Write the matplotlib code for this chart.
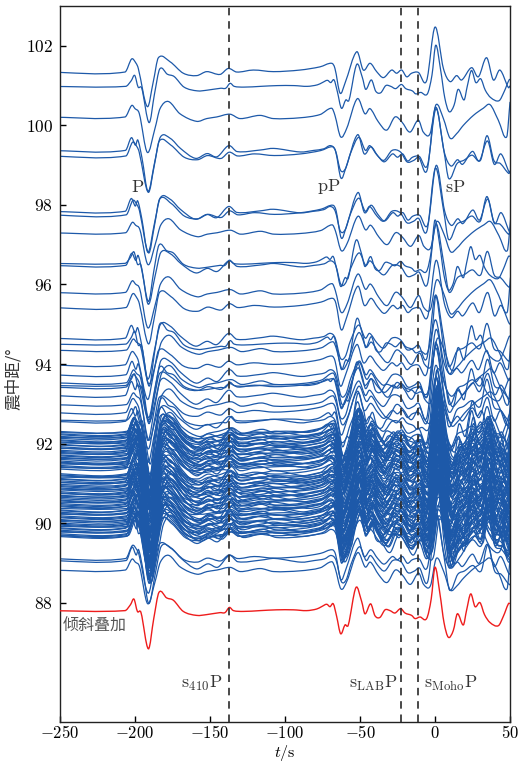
import numpy as np
import matplotlib
matplotlib.use("Agg")
import matplotlib.pyplot as plt
from matplotlib.path import Path
from matplotlib.patches import PathPatch
from matplotlib.ticker import FixedLocator, FixedFormatter

plt.rcParams['mathtext.fontset'] = 'cm'
plt.rcParams['font.family'] = ['DejaVu Serif']

# ---------------- data ----------------
# stacked (red) waveform: time (s), amplitude (deg)
stack_t = [-260, -206.7, -203, -200.7, -198.4, -196, -191.1, -187.5, -184, -178.9,
           -174.4, -167.8, -158.9, -152.2, -143.3, -140, -137.1, -134.4, -127.8, -116.7,
           -105.6, -94.4, -85.6, -78.9, -75.6, -72.2, -70, -67.8, -65.6, -62.9,
           -60, -57.8, -52.7, -48.9, -46.7, -42.9, -40, -36.7, -33.3, -30,
           -26.7, -22.9, -20, -15.6, -13.3, -10, -5.6, -2.5, 0, 3.3,
           6, 8.9, 12.2, 14.9, 18.9, 21, 23.8, 26.7, 30, 33,
           36.7, 42.2, 45.6, 48.9, 50]
stack_a = [0, 0, 0.15, 0.29, -0.02, -0.05, -0.96, -0.2, 0.46, 0.32,
           0.26, -0.02, -0.12, -0.1, -0.05, -0.05, 0.08, 0, -0.02, 0,
           0.02, 0.02, 0, 0.04, 0.1, 0.16, 0.1, 0.17, -0.14, -0.58,
           -0.36, -0.36, 0.58, 0.23, -0.08, 0.17, -0.13, -0.17, 0.02, 0,
           -0.06, 0.05, -0.06, -0.12, -0.2, -0.16, -0.2, 0.3, 1.09, 0.42,
           -0.3, -0.67, -0.5, -0.08, -0.36, 0.0, 0.42, 0.1, 0.2, -0.1,
           -0.3, -0.38, -0.14, 0.17, 0.18]
stack_dist = 87.8

# individual record shapes
wB_t = [-260, -206.7, -202.2, -199.3, -197.8, -191.8, -187.8, -184.4, -176.7, -167.8,
        -158.9, -152.2, -143.3, -137.8, -132.2, -121.1, -107.8, -90, -76.7, -68.9,
        -66.7, -63.3, -60, -52.2, -47.8, -43.3, -38.9, -34.4, -28.9, -25.6,
        -22.2, -18.9, -15.6, -11.1, -5.6, 0, 5.6, 10, 14.4, 17.8,
        24.4, 28.9, 34.4, 38.9, 43.3, 48.9, 50]
wB_a = [0, 0, 0.33, 0.22, 0.09, -0.87, -0.24, 0.36, 0.26, -0.03,
        -0.09, 0.01, -0.06, 0.09, 0, 0.05, 0.01, 0.05, 0.13, 0.22,
        0.09, -0.53, -0.28, 0.51, 0.05, 0.22, 0.01, -0.14, 0.05, -0.03,
        0.05, -0.12, -0.03, -0.01, -0.22, 1.13, 0.09, -0.24, -0.09, -0.2,
        0.11, -0.12, 0.36, -0.2, 0.05, -0.39, -0.35]

wC_t = [-260, -206.7, -202.2, -200, -197.1, -191.8, -186.7, -183.3, -177.8, -170,
        -158.9, -152.2, -145.6, -136.7, -130, -116.7, -107.8, -90, -76.7, -68.9,
        -66.7, -62.9, -58.9, -51.8, -46.7, -43.3, -37.8, -32.2, -26.7, -22.2,
        -16.7, -11.1, -7.8, -3.3, 0.7, 5.6, 10, 14.4, 18.9, 25.6,
        32.2, 36.7, 42.2, 47.8, 50]
wC_a = [0, 0, 0.29, 0.21, 0.08, -0.89, -0.29, 0.21, 0.39, 0.08,
        -0.11, -0.04, 0, 0.07, -0.04, 0.04, -0.04, -0.02, 0.06, 0.22,
        0.04, -0.5, -0.29, 0.46, 0.08, 0.21, -0.12, -0.33, 0, -0.12,
        -0.38, -0.08, -0.38, -0.42, 0.31, -0.04, -0.53, -0.42, -0.21, 0.04,
        0.22, 0.31, -0.08, -0.5, 0.37]

wD_t = [-260, -206.7, -202.7, -200, -198.4, -195.6, -191.6, -187.1, -183.3, -176.7,
        -170, -160, -152.2, -145.6, -137.8, -132.2, -116.7, -107.8, -90, -81.1,
        -74.4, -70, -66.7, -63.3, -60, -56.7, -51.1, -46.7, -43.8, -38.9,
        -34.4, -28.9, -23.3, -18.9, -14.4, -11.1, -5.6, 0, 5.6, 8.9,
        14.4, 18.9, 24.4, 30, 34.4, 38.9, 43.3, 48.9, 50]
wD_a = [0, 0, 0.32, 0.13, 0.26, -0.2, -1.03, -0.28, 0.34, 0.3,
        0.05, -0.2, -0.08, -0.16, 0.12, -0.03, 0.01, 0.05, -0.04, 0,
        0.04, 0.12, 0, -0.5, -0.46, -0.08, 0.33, 0, 0.12, -0.12,
        -0.25, 0, -0.04, -0.29, -0.25, -0.18, -0.5, 1.08, 0, -0.71,
        -0.33, -0.25, -0.12, -0.25, 0.37, -0.25, -0.33, -0.58, -0.5]

# epicentral distances (deg), shape index, gain and time shift (s) of each record
dists_upper = [101.34, 100.98, 100.21, 99.37, 99.23, 97.84, 97.75, 97.30, 96.53, 96.48,
               95.80, 95.42, 94.65, 94.50, 94.35, 93.98, 93.73, 93.53, 93.46, 93.42,
               93.21, 92.98, 92.78, 92.59, 92.56]
shape_upper = [1, 0, 2, 3, 1, 3, 1, 2, 0, 3,
               2, 1, 3, 0, 2, 1, 3, 2, 0, 1,
               3, 2, 1, 0, 3]
gain_upper = [1.00, 0.95, 1.00, 1.00, 1.05, 1.00, 1.10, 0.90, 1.00, 0.95,
              1.00, 1.05, 1.00, 1.10, 0.95, 1.00, 1.05, 1.10, 1.00, 0.95,
              1.10, 1.00, 1.05, 1.15, 1.00]
shift_upper = [0.0, 0.5, 0.0, 0.3, 0.6, 0.2, 0.8, 0.4, 0.0, 0.5,
               0.3, 0.7, 0.2, 0.5, 0.9, 0.1, 0.6, 1.0, 0.4, 0.8,
               0.2, 0.9, 0.5, 1.2, 0.3]

dists_dense = [92.31, 92.28, 92.25, 92.23, 92.19, 92.16, 92.14, 92.10, 92.08, 92.05,
               92.02, 91.99, 91.97, 91.93, 91.90, 91.88, 91.84, 91.81, 91.79, 91.75,
               91.72, 91.70, 91.66, 91.63, 91.61, 91.57, 91.54, 91.52, 91.49, 91.46,
               91.43, 91.40, 91.37, 91.25, 91.22, 91.20, 91.16, 91.13, 91.11, 91.07,
               91.04, 91.02, 90.98, 90.95, 90.93, 90.89, 90.86, 90.84, 90.80, 90.77,
               90.75, 90.71, 90.68, 90.66, 90.62, 90.59, 90.57, 90.53, 90.50, 90.47,
               90.44, 90.42, 90.37, 90.34, 90.32, 90.28, 90.25, 90.23, 90.19, 90.16,
               90.14, 90.10, 90.07, 90.05, 90.01, 89.98, 89.96, 89.92, 89.89, 89.87,
               89.83, 89.80, 89.78, 89.74, 89.71, 89.69, 89.67]
shape_dense = [2, 0, 3, 1, 2, 0, 3, 1, 3, 2,
               0, 3, 2, 1, 3, 0, 2, 1, 3, 0,
               1, 2, 3, 0, 2, 1, 3, 2, 0, 3,
               1, 0, 2, 3, 1, 2, 0, 3, 2, 1,
               3, 0, 1, 2, 3, 1, 0, 2, 3, 1,
               2, 3, 0, 1, 2, 3, 1, 0, 2, 3,
               1, 2, 0, 3, 1, 3, 2, 0, 1, 3,
               2, 1, 0, 3, 2, 1, 3, 0, 2, 1,
               3, 2, 0, 1, 3, 2, 1]
gain_dense = [1.20, 1.30, 1.15, 1.25, 1.35, 1.20, 1.10, 1.30, 1.25, 1.40,
              1.15, 1.30, 1.20, 1.35, 1.25, 1.10, 1.30, 1.20, 1.40, 1.25,
              1.15, 1.35, 1.20, 1.30, 1.25, 1.40, 1.15, 1.30, 1.20, 1.35,
              1.25, 1.10, 1.30, 1.40, 1.20, 1.30, 1.15, 1.35, 1.25, 1.20,
              1.40, 1.30, 1.10, 1.25, 1.35, 1.20, 1.30, 1.15, 1.40, 1.25,
              1.20, 1.35, 1.30, 1.15, 1.25, 1.40, 1.20, 1.30, 1.35, 1.15,
              1.25, 1.30, 1.20, 1.40, 1.15, 1.30, 1.25, 1.35, 1.20, 1.10,
              1.30, 1.40, 1.25, 1.15, 1.35, 1.20, 1.30, 1.25, 1.40, 1.15,
              1.30, 1.20, 1.35, 1.25, 1.10, 1.30, 1.20]
shift_dense = [1.5, 0.6, 2.0, 1.0, 0.3, 1.8, 0.7, 2.4, 1.1, 0.4,
               1.9, 0.8, 2.2, 1.4, 0.5, 2.5, 1.0, 1.7, 0.2, 2.1,
               1.3, 0.6, 2.3, 1.6, 0.9, 2.0, 0.4, 1.5, 2.6, 0.8,
               1.2, 2.2, 0.3, 1.8, 1.0, 0.6, 2.4, 1.4, 0.9, 2.0,
               0.2, 1.6, 2.5, 1.1, 0.5, 1.9, 0.8, 2.3, 1.3, 0.4,
               2.1, 1.0, 1.7, 0.7, 2.4, 1.2, 0.3, 2.0, 1.5, 0.5,
               1.8, 0.9, 2.2, 1.4, 0.6, 2.5, 1.1, 0.2, 1.9, 0.8,
               2.3, 1.3, 0.4, 2.1, 1.0, 1.7, 0.7, 2.4, 1.2, 0.3,
               2.0, 1.5, 0.5, 1.8, 0.9, 2.2, 1.4]

dists_lower = [89.11, 89.06, 88.82]
shape_lower = [1, 3, 2]
gain_lower = [1.00, 1.05, 0.95]
shift_lower = [0.5, 0.8, 0.2]

x_ticks = [-250, -200, -150, -100, -50, 0, 50]
x_ticklabels = ['$-250$', '$-200$', '$-150$', '$-100$', '$-50$', '$0$', '$50$']
y_ticks = [88, 90, 92, 94, 96, 98, 100, 102]
y_ticklabels = ['$%d$' % v for v in y_ticks]

phase_lines = [-137.5, -22.9, -11.1]


# ---------------- drawing ----------------
def smooth_path(x, y):
    """Cubic (Hermite -> Bezier) path through the given points."""
    x = np.asarray(x, float)
    y = np.asarray(y, float)
    n = len(x)
    m = np.zeros(n)
    m[1:-1] = (y[2:] - y[:-2]) / (x[2:] - x[:-2])
    m[0] = (y[1] - y[0]) / (x[1] - x[0])
    m[-1] = (y[-1] - y[-2]) / (x[-1] - x[-2])
    verts = [(x[0], y[0])]
    codes = [Path.MOVETO]
    for i in range(n - 1):
        h = x[i + 1] - x[i]
        verts += [(x[i] + h / 3, y[i] + m[i] * h / 3),
                  (x[i + 1] - h / 3, y[i + 1] - m[i + 1] * h / 3),
                  (x[i + 1], y[i + 1])]
        codes += [Path.CURVE4] * 3
    return Path(verts, codes)


shapes = [(stack_t, stack_a), (wB_t, wB_a), (wC_t, wC_a), (wD_t, wD_a)]
blue = '#1d59a9'
red = '#ee1c1c'

fig = plt.figure(figsize=(5.18, 7.64), dpi=100)
ax = fig.add_axes([60 / 518, 1 - 722 / 764, 450 / 518, 716 / 764])

all_d = dists_upper + dists_dense + dists_lower
all_k = shape_upper + shape_dense + shape_lower
all_g = gain_upper + gain_dense + gain_lower
all_s = shift_upper + shift_dense + shift_lower

for d, k, g, s in zip(all_d, all_k, all_g, all_s):
    t, a = shapes[k]
    p = smooth_path(np.asarray(t) + s, d + g * np.asarray(a))
    ax.add_patch(PathPatch(p, fill=False, edgecolor=blue, lw=0.9,
                           joinstyle='round', capstyle='round'))

ax.add_patch(PathPatch(smooth_path(stack_t, stack_dist + np.asarray(stack_a)),
                       fill=False, edgecolor=red, lw=1.0, zorder=3))

for xv in phase_lines:
    ax.axvline(xv, color='#2a2a2a', lw=1.2, dashes=(4.5, 3.5), zorder=5)

ax.set_xlim(-250, 50)
ax.set_ylim(85, 103)

ax.xaxis.set_major_locator(FixedLocator(x_ticks))
ax.xaxis.set_major_formatter(FixedFormatter(x_ticklabels))
ax.yaxis.set_major_locator(FixedLocator(y_ticks))
ax.yaxis.set_major_formatter(FixedFormatter(y_ticklabels))
ax.tick_params(direction='in', length=4, width=1, labelsize=12.5, color='black',
               top=False, right=False, pad=5)
ax.tick_params(axis='x', pad=2, labelsize=12)
for sp in ax.spines.values():
    sp.set_linewidth(1.0)
    sp.set_color('#222222')

ax.set_xlabel(r'$t/\mathrm{s}$', fontsize=11.5)
ax.xaxis.set_label_coords(0.5, -0.029)
ax.set_ylabel('震中距/°', fontsize=12, family=['Noto Sans CJK SC', 'DejaVu Sans'],
              color='#333333')
ax.yaxis.set_label_coords(-0.085, 0.48)

tc = '#333333'
ax.text(-198.5, 98.45, r'$\mathrm{P}$', fontsize=13, ha='center', va='center', color=tc)
ax.text(-71, 98.45, r'$\mathrm{pP}$', fontsize=13, ha='center', va='center', color=tc)
ax.text(13.5, 98.45, r'$\mathrm{sP}$', fontsize=13, ha='center', va='center', color=tc)
ax.text(-141.5, 85.97, r'$\mathrm{s}_{410}\mathrm{P}$', fontsize=13, ha='right',
        va='center', color=tc)
ax.text(-25, 85.97, r'$\mathrm{s}_{\mathrm{LAB}}\mathrm{P}$', fontsize=13, ha='right',
        va='center', color=tc)
ax.text(-7.5, 85.97, r'$\mathrm{s}_{\mathrm{Moho}}\mathrm{P}$', fontsize=13, ha='left',
        va='center', color=tc)
ax.text(-248, 87.42, '倾斜叠加', fontsize=11.5, ha='left', va='center', color='#555555',
        family=['Noto Sans CJK SC', 'DejaVu Sans'])

fig.savefig('out.png', dpi=100)
